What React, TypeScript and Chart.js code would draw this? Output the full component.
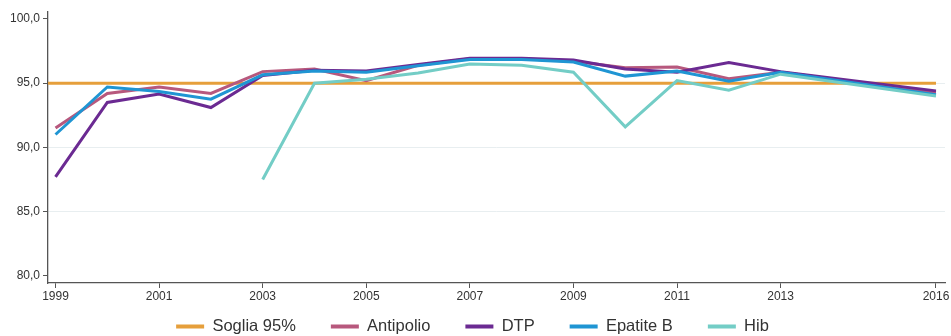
import React, { useEffect, useRef } from "react";
import { Chart, registerables } from "chart.js";

Chart.register(...registerables);

const years = [1999, 2000, 2001, 2002, 2003, 2004, 2005, 2006, 2007, 2008, 2009, 2010, 2011, 2012, 2013, 2016];
const soglia = [95, 95, 95, 95, 95, 95, 95, 95, 95, 95, 95, 95, 95, 95, 95, 95];
const antipolio = [91.5, 94.2, 94.7, 94.2, 95.9, 96.1, 95.2, 96.4, 96.9, 96.9, 96.7, 96.2, 96.25, 95.35, 95.85, 94.3];
const dtp = [87.7, 93.5, 94.15, 93.1, 95.6, 96.0, 95.95, 96.45, 96.95, 96.95, 96.8, 96.1, 95.85, 96.6, 95.9, 94.4];
const epatiteB = [91.0, 94.7, 94.35, 93.75, 95.65, 95.95, 95.85, 96.35, 96.85, 96.85, 96.65, 95.55, 95.95, 95.15, 95.85, 94.1];
const hib = [null, null, null, null, 87.5, 95.0, 95.3, 95.8, 96.5, 96.4, 95.85, 91.6, 95.2, 94.45, 95.7, 94.0];

const xTickValues = [1999, 2001, 2003, 2005, 2007, 2009, 2011, 2013, 2016];
const yTickValues = [80, 85, 90, 95, 100];
const xMin = 1998.855;
const xMax = 2016.174;
const yMin = 79.43;
const yMax = 100.545;

const seriesNames = ["Soglia 95%", "Antipolio", "DTP", "Epatite B", "Hib"];
const seriesColors = ["#e69f3b", "#b7587d", "#6b2a92", "#1f95d3", "#73cdc6"];

const FONT = "'Liberation Sans', Arial, Helvetica, sans-serif";

function toPoints(values: (number | null)[]) {
  return years
    .map((y, i) => ({ x: y, y: values[i] }))
    .filter((p) => p.y !== null);
}

export default function App() {
  const ref = useRef<HTMLCanvasElement | null>(null);

  useEffect(() => {
    if (!ref.current) return;
    const sogliaPts = [{ x: xMin, y: soglia[0] }, ...toPoints(soglia)];
    const all = [sogliaPts, toPoints(antipolio), toPoints(dtp), toPoints(epatiteB), toPoints(hib)];
    const legendShift = {
      id: "legendShift",
      afterLayout(chart: any) {
        if (chart.legend) {
          chart.legend.top -= 16.75;
          chart.legend.bottom = chart.height;
        }
      },
    };
    const chart = new Chart(ref.current, {
      type: "line",
      data: {
        datasets: all.map((d, i) => ({
          label: seriesNames[i],
          data: d as any,
          borderColor: seriesColors[i],
          backgroundColor: seriesColors[i],
          borderWidth: 3,
          pointRadius: 0,
          pointHoverRadius: 0,
          tension: 0,
          fill: false,
          order: 5 - i,
        })),
      },
      options: {
        animation: false,
        responsive: false,
        maintainAspectRatio: false,
        layout: { padding: { left: 0, right: 6, top: 12, bottom: 0 } },
        plugins: {
          tooltip: { enabled: false },
          legend: {
            position: "bottom",
            maxHeight: 36,
            labels: {
              boxWidth: 28,
              boxHeight: 4,
              padding: 35,
              color: "#333",
              font: { family: FONT, size: 16.5 },
              sort: (a: any, b: any) => a.datasetIndex - b.datasetIndex,
              generateLabels: (c: any) => {
                const items = Chart.defaults.plugins.legend.labels.generateLabels(c);
                return items.map((it: any) => ({ ...it, lineWidth: 0, fillStyle: it.strokeStyle }));
              },
            },
          },
        },
        scales: {
          x: {
            type: "linear",
            min: xMin,
            max: xMax,
            afterBuildTicks: (s: any) => {
              s.ticks = xTickValues.map((v) => ({ value: v }));
            },
            afterFit: (s: any) => {
              s.height = 17;
            },
            ticks: {
              autoSkip: false,
              maxRotation: 0,
              padding: 1,
              color: "#333",
              font: { family: FONT, size: 12 },
              callback: (v: any) => String(v),
            },
            grid: {
              drawOnChartArea: false,
              drawTicks: true,
              tickLength: 5,
              tickColor: "#555",
              tickWidth: 1,
            },
            border: { color: "#555", width: 1.3 },
          },
          y: {
            type: "linear",
            min: yMin,
            max: yMax,
            afterBuildTicks: (s: any) => {
              s.ticks = yTickValues.map((v) => ({ value: v }));
            },
            afterFit: (s: any) => {
              s.width = 48;
            },
            ticks: {
              autoSkip: false,
              padding: 3,
              color: "#333",
              font: { family: FONT, size: 12 },
              callback: (v: any) => Number(v).toFixed(1).replace(".", ","),
            },
            grid: {
              drawTicks: true,
              tickLength: 5,
              tickColor: "#555",
              tickWidth: 1,
              color: (ctx: any) => {
                const v = ctx.tick ? ctx.tick.value : null;
                return v === 80 || v === 100 ? "rgba(0,0,0,0)" : "#e8eef0";
              },
            },
            border: { color: "#555", width: 1.3 },
          },
        },
      },
      plugins: [legendShift],
    } as any);
    return () => chart.destroy();
  }, []);

  return (
    <div style={{ position: "fixed", left: 0, top: 0, width: 951, height: 336, background: "#fff" }}>
      <canvas ref={ref} width={951} height={336} style={{ width: 951, height: 336, display: "block" }} />
    </div>
  );
}
